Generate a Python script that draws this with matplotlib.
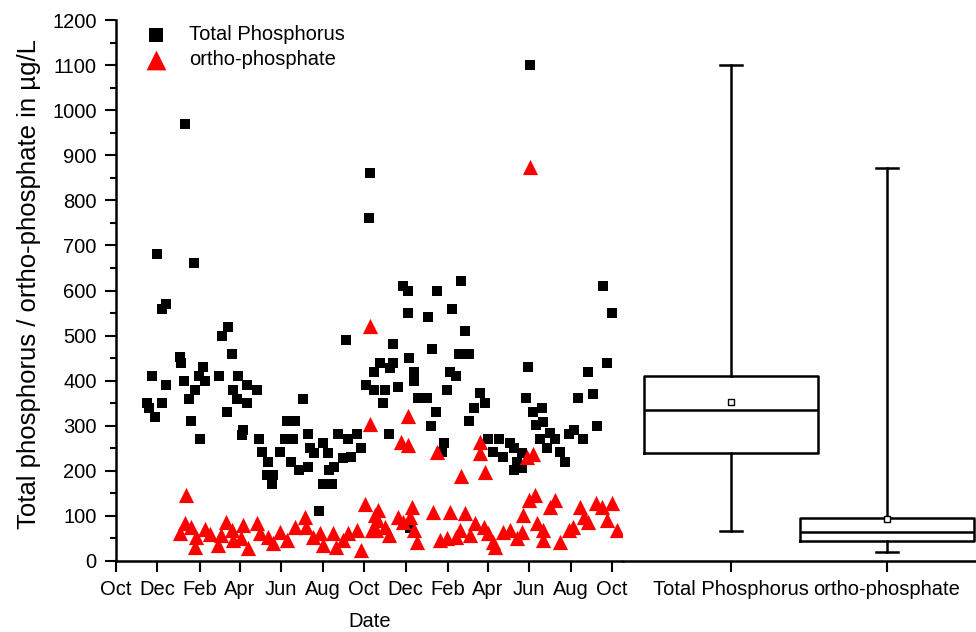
import matplotlib
matplotlib.use("Agg")
import matplotlib.pyplot as plt
import matplotlib.dates as mdates
from matplotlib.ticker import MultipleLocator
import numpy as np
import pandas as pd

plt.rcParams['font.family'] = ['Liberation Sans', 'DejaVu Sans']

start_date = "2005-10-01"

# Total Phosphorus samples: days after start, value in ug/L
tp_days = [45, 67, 49, 58, 53, 61, 68, 74, 74, 94, 96, 100, 102, 107, 110, 115, 116, 122, 124, 128,
           131, 152, 156, 163, 165, 171, 172, 178, 180, 186, 187, 193, 193, 207, 210, 215, 222, 224, 229, 231,
           241, 248, 251, 257, 260, 264, 270, 275, 282, 282, 285, 292, 298, 304, 305, 312, 313, 318, 321, 327,
           334, 338, 341, 346, 354, 361, 368, 372, 374, 380, 380,
           389, 393, 396, 401, 403, 408, 408, 415, 422, 429, 430, 431, 433, 438, 438, 444, 457, 459, 464,
           465, 471, 473, 479, 482, 487, 492, 494, 500, 505, 508, 513, 519, 519, 527, 536, 543, 548, 555, 563,
           570, 579, 585, 585, 590, 597, 597, 603, 606, 609, 613, 618, 624, 627, 629, 634, 639, 646, 653, 660,
           667, 674, 680, 687, 695, 702, 708, 716, 723, 730]
tp_values = [350, 350, 339, 320, 410, 680, 560, 570, 390, 452, 440, 400, 970, 359, 310, 660, 379, 410, 270, 430,
             400, 410, 500, 330, 520, 459, 379, 359, 410, 280, 290, 390, 350, 380, 270, 241, 191, 220, 171, 191,
             241, 270, 310, 220, 270, 310, 202, 360, 209, 281, 250, 239, 111, 261, 171, 239, 202, 171, 209, 281,
             228, 490, 270, 231, 281, 251, 390, 760, 860, 379, 420,
             440, 351, 379, 281, 429, 481, 440, 387, 610, 600, 549, 450, 73, 420, 400, 361, 361, 541, 300,
             470, 330, 600, 242, 261, 379, 420, 559, 410, 459, 620, 511, 459, 310, 340, 372, 350, 270, 242, 270,
             230, 261, 250, 202, 220, 239, 207, 361, 431, 1100, 330, 302, 270, 340, 309, 250, 283, 270, 242, 220,
             281, 290, 361, 270, 420, 370, 300, 610, 440, 549]

# ortho-phosphate samples: days after start, value in ug/L
op_days = [103, 101, 94, 111, 118, 116, 131, 138, 162, 155, 150, 170, 172, 187, 184, 194, 207, 212, 224, 231,
           241, 251, 263, 278, 280, 290, 300, 305, 319, 324, 334, 341, 354, 361, 367, 374, 374, 381, 383,
           386, 384, 396, 401, 376, 415, 423, 435, 433, 438, 443, 466, 477, 492, 487, 501, 513, 506, 521, 528,
           541, 548, 555, 558, 570, 580, 590, 597, 599, 607, 617, 619, 629, 629, 639, 646, 653, 666, 673, 683,
           688, 695, 707, 715, 722, 730, 737,
           420, 430, 429, 473, 535, 535, 508, 543, 605, 614, 609]
op_values = [146, 84, 61, 76, 54, 32, 72, 60, 87, 58, 35, 69, 47, 80, 50, 28, 84, 61, 54, 39,
             65, 47, 75, 98, 76, 54, 61, 35, 61, 32, 47, 61, 69, 24, 126, 521, 304, 101, 69,
             113, 91, 76, 58, 69, 98, 87, 120, 98, 69, 43, 109, 47, 109, 50, 54, 106, 69, 58, 84,
             76, 61, 43, 32, 65, 69, 50, 65, 102, 135, 146, 84, 69, 47, 120, 135, 43, 69, 76, 120,
             98, 87, 128, 120, 91, 128, 69,
             265, 257, 322, 241, 265, 239, 189, 197, 231, 237, 874]

# Box plot statistics
box_labels = ["Total Phosphorus", "ortho-phosphate"]
box_min = [66, 20]
box_q1 = [240, 44]
box_median = [335, 64]
box_q3 = [410, 95]
box_max = [1100, 872]
box_mean = [352, 93]

W, H = 976, 632
fig = plt.figure(figsize=(W / 100, H / 100), dpi=100)

ax_l, ax_r = 116, 623
ax_b, ax_t = 561, 20
ax = fig.add_axes([ax_l / W, 1 - ax_b / H, (ax_r - ax_l) / W, (ax_b - ax_t) / H])
bx = fig.add_axes([ax_r / W, 1 - ax_b / H, (W - ax_r) / W, (ax_b - ax_t) / H], sharey=ax)

t0 = pd.Timestamp(start_date)
tp_dates = t0 + pd.to_timedelta(tp_days, unit="D")
op_dates = t0 + pd.to_timedelta(op_days, unit="D")

ax.scatter(tp_dates, tp_values, marker='s', s=60, color='black', linewidths=0, label='Total Phosphorus', zorder=3)
ax.scatter(op_dates, op_values, marker='^', s=120, color='#ff0000', linewidths=0, label='ortho-phosphate', zorder=4)

ax.set_xlim(t0, t0 + pd.Timedelta(days=746))
ax.set_ylim(0, 1200)
ax.xaxis.set_major_locator(mdates.MonthLocator(bymonth=[2, 4, 6, 8, 10, 12]))
ax.xaxis.set_major_formatter(mdates.DateFormatter('%b'))
ax.yaxis.set_major_locator(MultipleLocator(100))
ax.yaxis.set_minor_locator(MultipleLocator(50))

fs = 14.5
lw = 1.8
for a in (ax, bx):
    a.spines['top'].set_visible(False)
    a.spines['right'].set_visible(False)
    a.spines['bottom'].set_linewidth(lw)
    a.spines['left'].set_linewidth(lw)
ax.tick_params(axis='both', which='major', direction='out', length=8, width=1.5, labelsize=fs, pad=6)
ax.tick_params(axis='y', which='minor', direction='out', length=4, width=1.5)
ax.tick_params(axis='x', which='major', pad=6)

ax.set_xlabel('Date', fontsize=fs, labelpad=9)
ax.set_ylabel('Total phosphorus / ortho-phosphate in µg/L', fontsize=18.5)
ax.yaxis.set_label_coords(41 / W, 1 - 284 / H, transform=fig.transFigure)

leg = ax.legend(loc='upper left', bbox_to_anchor=(0.04, 1.005), frameon=False, fontsize=fs,
                handletextpad=1.0, labelspacing=0.3, borderaxespad=0, handlelength=1.2,
                markerscale=1.3)

# Box plot
stats = []
for i in range(len(box_labels)):
    stats.append(dict(label=box_labels[i], whislo=box_min[i], q1=box_q1[i], med=box_median[i],
                      q3=box_q3[i], whishi=box_max[i], mean=box_mean[i], fliers=[]))
bx.bxp(stats, positions=[1, 2], widths=1.11, showmeans=True, showfliers=False, capwidths=0.14,
       boxprops=dict(color='black', linewidth=1.8),
       medianprops=dict(color='black', linewidth=1.8),
       whiskerprops=dict(color='black', linewidth=1.8),
       capprops=dict(color='black', linewidth=1.8),
       meanprops=dict(marker='s', markerfacecolor='white', markeredgecolor='black',
                      markersize=5, markeredgewidth=1.0))
bx.set_xlim(0.3077, 2.5705)
bx.spines['left'].set_visible(False)
bx.tick_params(axis='y', which='both', left=False, labelleft=False)
bx.tick_params(axis='x', which='major', direction='out', length=8, width=1.5, labelsize=fs, pad=6)
bx.set_xticks([1, 2])
bx.set_xticklabels(box_labels)

fig.savefig('out.png', dpi=100)
